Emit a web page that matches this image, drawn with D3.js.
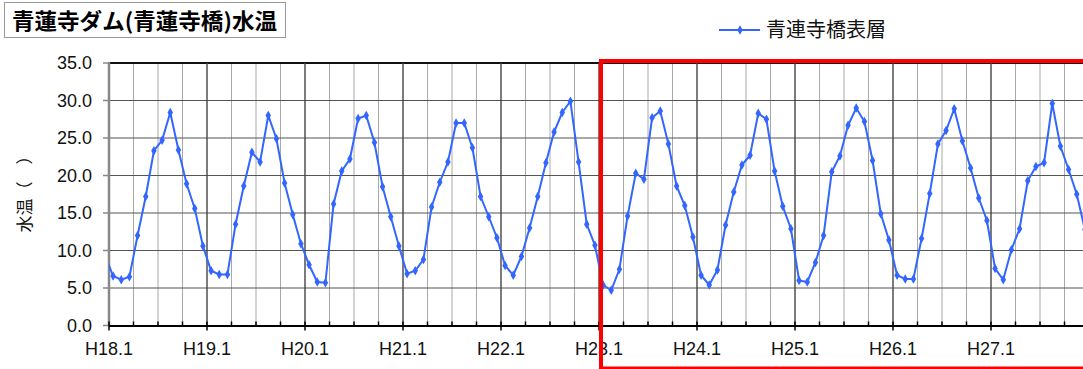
<!DOCTYPE html>
<html>
<head>
<meta charset="utf-8">
<script src="https://cdn.jsdelivr.net/npm/d3@7"></script>
<style>
  body { margin: 0; background: #fff; }
  svg { display: block; }
  .num { font-family: "Liberation Sans", Arial, sans-serif; }
  .jp { font-family: "Noto Sans CJK JP", "Noto Sans", sans-serif; }
</style>
</head>
<body>
<div id="chart"></div>
<script>
// monthly surface water temperature (℃), Jan..Dec of each year
const prevDec = 9.4;   // H17.12, only its line segment shows at the left edge
const yearLabels = ["H18.1","H19.1","H20.1","H21.1","H22.1","H23.1","H24.1","H25.1","H26.1","H27.1"];
const tH18 = [6.6, 6.1, 6.5, 12.0, 17.2, 23.3, 24.7, 28.4, 23.4, 18.9, 15.6, 10.6];
const tH19 = [7.3, 6.8, 6.8, 13.5, 18.6, 23.1, 21.8, 28.0, 24.9, 19.0, 14.8, 10.9];
const tH20 = [8.1, 5.8, 5.7, 16.2, 20.6, 22.2, 27.6, 28.0, 24.4, 18.5, 14.5, 10.6];
const tH21 = [6.9, 7.3, 8.8, 15.8, 19.1, 21.8, 27.0, 27.0, 23.7, 17.2, 14.5, 11.7];
const tH22 = [8.0, 6.7, 9.2, 13.0, 17.2, 21.7, 25.8, 28.4, 29.9, 21.8, 13.5, 10.7];
const tH23 = [5.4, 4.7, 7.5, 14.6, 20.3, 19.5, 27.7, 28.6, 24.2, 18.6, 16.0, 11.8];
const tH24 = [6.7, 5.4, 7.4, 13.4, 17.8, 21.4, 22.7, 28.3, 27.5, 20.6, 15.9, 12.9];
const tH25 = [6.0, 5.8, 8.4, 12.0, 20.5, 22.6, 26.7, 29.0, 27.2, 22.0, 14.9, 11.4];
const tH26 = [6.7, 6.2, 6.2, 11.6, 17.6, 24.2, 26.0, 28.9, 24.6, 21.0, 17.0, 14.0];
const tH27 = [7.6, 6.1, 10.1, 12.9, 19.3, 21.2, 21.7, 29.6, 23.9, 20.8, 17.5, 12.8];
const yTicks = [0, 5, 10, 15, 20, 25, 30, 35];

const monthly = [prevDec].concat(tH18, tH19, tH20, tH21, tH22, tH23, tH24, tH25, tH26, tH27);
// index -0.5 is H17.12, then each month plotted at its middle
const points = monthly.map((v, i) => ({ m: i - 0.5, v }));

const W = 1083, H = 369;
const pLeft = 109, pTop = 63, pBottom = 325.5, pRight = 1083;

const svg = d3.select("#chart").append("svg").attr("width", W).attr("height", H);

const x = d3.scaleLinear().domain([0, 120]).range([pLeft, 1089]);
const y = d3.scaleLinear().domain([0, 35]).range([pBottom, pTop]);

svg.append("clipPath").attr("id", "plot")
  .append("rect").attr("x", pLeft).attr("y", pTop - 5).attr("width", pRight - pLeft).attr("height", pBottom - pTop + 10);

const grid = svg.append("g");
// quarter gridlines
d3.range(3, 120, 3).filter(m => m % 12 !== 0).forEach(m => {
  if (x(m) > pRight) return;
  grid.append("line").attr("x1", x(m)).attr("x2", x(m)).attr("y1", pTop).attr("y2", pBottom)
    .attr("stroke", "#a8a8a8").attr("stroke-width", 1);
});
// horizontal gridlines
yTicks.forEach(t => {
  grid.append("line").attr("x1", pLeft).attr("x2", pRight).attr("y1", y(t)).attr("y2", y(t))
    .attr("stroke", t === 35 ? "#111" : "#555").attr("stroke-width", t === 35 ? 2 : 1.2);
});
// year gridlines
yearLabels.forEach((lbl, i) => {
  if (i === 0) return;
  grid.append("line").attr("x1", x(i * 12)).attr("x2", x(i * 12)).attr("y1", pTop).attr("y2", pBottom)
    .attr("stroke", "#444").attr("stroke-width", 1.4);
});

// y axis
svg.append("line").attr("x1", pLeft).attr("x2", pLeft).attr("y1", pTop - 1).attr("y2", pBottom)
  .attr("stroke", "#888").attr("stroke-width", 2.5);
yTicks.forEach(t => {
  svg.append("line").attr("x1", pLeft - 6).attr("x2", pLeft).attr("y1", y(t)).attr("y2", y(t))
    .attr("stroke", "#888").attr("stroke-width", 1.5);
  svg.append("text").attr("class", "num").attr("x", 92).attr("y", y(t)).attr("dy", "0.36em")
    .attr("text-anchor", "end").attr("font-size", 18).attr("fill", "#111").text(t.toFixed(1));
});

// x axis
svg.append("line").attr("x1", pLeft).attr("x2", pRight).attr("y1", pBottom + 0.5).attr("y2", pBottom + 0.5)
  .attr("stroke", "#000").attr("stroke-width", 2.2);
d3.range(0, 120, 3).forEach(m => {
  if (x(m) > pRight) return;
  const yr = m % 12 === 0;
  svg.append("line").attr("x1", x(m)).attr("x2", x(m))
    .attr("y1", pBottom - 4).attr("y2", yr ? pBottom + 5 : pBottom)
    .attr("stroke", "#000").attr("stroke-width", 1.5);
});
yearLabels.forEach((lbl, i) => {
  svg.append("text").attr("class", "num").attr("x", x(i * 12)).attr("y", 355)
    .attr("text-anchor", "middle").attr("font-size", 18).attr("fill", "#111").text(lbl);
});

// series
const line = d3.line().x(d => x(d.m)).y(d => y(d.v));
const series = svg.append("g").attr("clip-path", "url(#plot)");
series.append("path").datum(points).attr("d", line)
  .attr("fill", "none").attr("stroke", "#3366ff").attr("stroke-width", 2);
series.selectAll("path.mk").data(points.slice(1)).join("path").attr("class", "mk")
  .attr("transform", d => `translate(${x(d.m)},${y(d.v)})`)
  .attr("d", d3.symbol(d3.symbolDiamond, 26))
  .attr("fill", "#3366ff");

// y title
svg.append("text").attr("class", "jp")
  .attr("transform", "translate(31,190) rotate(-90)")
  .attr("text-anchor", "middle").attr("font-size", 17).attr("fill", "#111").text("水温（　）");

// title box
svg.append("rect").attr("x", 4.5).attr("y", 2.5).attr("width", 281).attr("height", 35)
  .attr("fill", "#fff").attr("stroke", "#999").attr("stroke-width", 1);
svg.append("text").attr("class", "jp").attr("x", 12).attr("y", 29)
  .attr("font-size", 22).attr("font-weight", 700).attr("fill", "#000")
  .attr("textLength", 265).attr("lengthAdjust", "spacingAndGlyphs")
  .text("青蓮寺ダム(青蓮寺橋)水温");

// legend
svg.append("line").attr("x1", 719).attr("x2", 760).attr("y1", 30).attr("y2", 30)
  .attr("stroke", "#3366ff").attr("stroke-width", 2);
svg.append("path").attr("transform", "translate(740,30)")
  .attr("d", d3.symbol(d3.symbolDiamond, 26)).attr("fill", "#3366ff");
svg.append("text").attr("class", "jp").attr("x", 766).attr("y", 37)
  .attr("font-size", 20).attr("fill", "#111").text("青連寺橋表層");

// highlight frame
svg.append("rect").attr("x", 601).attr("y", 61).attr("width", 600).attr("height", 307.5)
  .attr("fill", "none").attr("stroke", "#ff0000").attr("stroke-width", 4);
</script>
</body>
</html>
